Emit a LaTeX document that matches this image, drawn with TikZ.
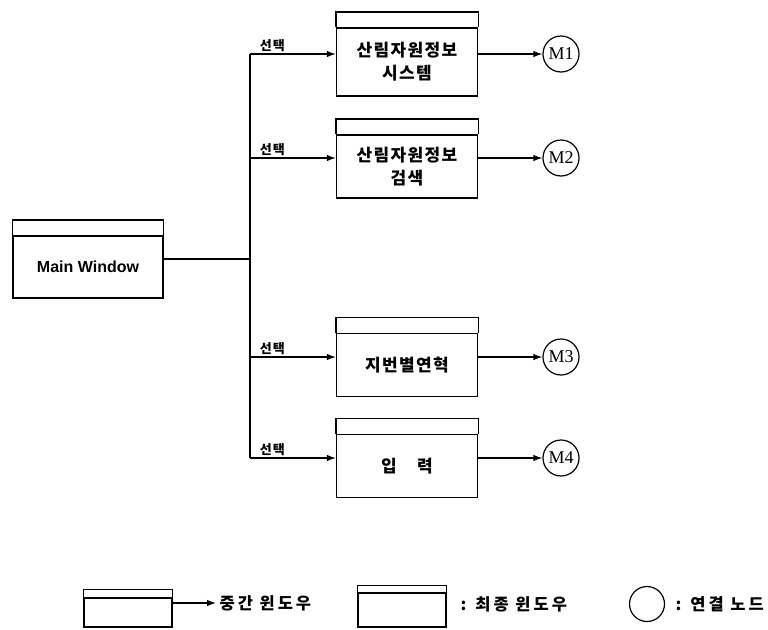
\documentclass[tikz,border=0pt]{standalone}
\usepackage{fontspec}
\setmainfont{Liberation Serif}
\setsansfont{Liberation Sans}
\newfontfamily\kr{Noto Sans CJK KR}
\newfontfamily\krwide{Noto Sans CJK KR}[LetterSpace=8]
\newfontfamily\krleg{Noto Sans CJK KR}[LetterSpace=18]
\usetikzlibrary{arrows.meta}

\begin{document}
\begin{tikzpicture}[x=1pt, y=-1pt, line width=1.2pt,
    >={Latex[length=9pt,width=6.5pt]},
    win/.style={draw, minimum width=141pt, minimum height=63pt, inner sep=2pt,
      align=center, font=\krwide\bfseries\fontsize{17}{23}\selectfont},
    conn/.style={circle, draw, minimum size=36pt, inner sep=0pt,
      font=\rmfamily\fontsize{18}{18}\selectfont},
    sel/.style={above, pos=0.26, inner sep=1.5pt,
      font=\krwide\bfseries\fontsize{13}{13}\selectfont},
    leg/.style={draw, minimum width=88pt, inner sep=0pt},
    legtext/.style={anchor=west, inner sep=3pt,
      font=\krleg\bfseries\fontsize{16.5}{17}\selectfont}]
  \useasboundingbox (0,0) rectangle (768,629);

  % windows
  \node[win, minimum width=150pt, minimum height=62pt,
        font=\sffamily\bfseries\fontsize{16}{16}\selectfont] (main) at (88,267) {Main Window};
  \node[win, minimum height=68pt] (b1) at (407,62) {산림자원정보\\시스템};
  \node[win] (b2) at (407,166.5) {산림자원정보\\검색};
  \node[win] (b3) at (407,365) {지번별연혁};
  \node[win] (b4) at (407,466) {입\hspace{1.2em}력};
  \foreach \n in {main,b1,b2,b3,b4}
    \draw (\n.north west) -- ([yshift=15.5pt]\n.north west) -| (\n.north east);

  % connection nodes
  \node[conn] (m1) at (561,54) {M1};
  \node[conn] (m2) at (561,158) {M2};
  \node[conn] (m3) at (561,357) {M3};
  \node[conn] (m4) at (561,458) {M4};

  % trunk
  \coordinate (j0) at (250,259);
  \coordinate (t1) at (250,54);
  \coordinate (t2) at (250,158);
  \coordinate (t3) at (250,357);
  \coordinate (t4) at (250,458);

  \path
    (main.east |- j0) edge (j0)
    (t1) edge (t4)
    (t1) edge[->] node[sel] {선택} (b1.west |- t1)
    (t2) edge[->] node[sel] {선택} (b2.west |- t2)
    (t3) edge[->] node[sel] {선택} (b3.west |- t3)
    (t4) edge[->] node[sel] {선택} (b4.west |- t4)
    (b1.east |- m1) edge[->] (m1)
    (b2.east |- m2) edge[->] (m2)
    (b3.east |- m3) edge[->] (m3)
    (b4.east |- m4) edge[->] (m4);

  % legend
  \node[leg, minimum height=29pt] (l1) at (128,612.5) {};
  \node[leg, minimum height=34pt] (l2) at (402,610) {};
  \draw (l1.north west) -- ([yshift=8pt]l1.north west) -| (l1.north east);
  \draw (l2.north west) -- ([yshift=7pt]l2.north west) -| (l2.north east);
  \node[legtext] (lt1) at (216,603) {중간 윈도우};
  \node[legtext] (lt2) at (457,604) {: 최종 윈도우};
  \node[circle, draw, minimum size=35pt, inner sep=0pt] (lc) at (647,604) {};
  \node[legtext] (lt3) at (672,604) {: 연결 노드};
  \path (l1.east |- lt1) edge[->] (lt1.west);
\end{tikzpicture}
\end{document}
